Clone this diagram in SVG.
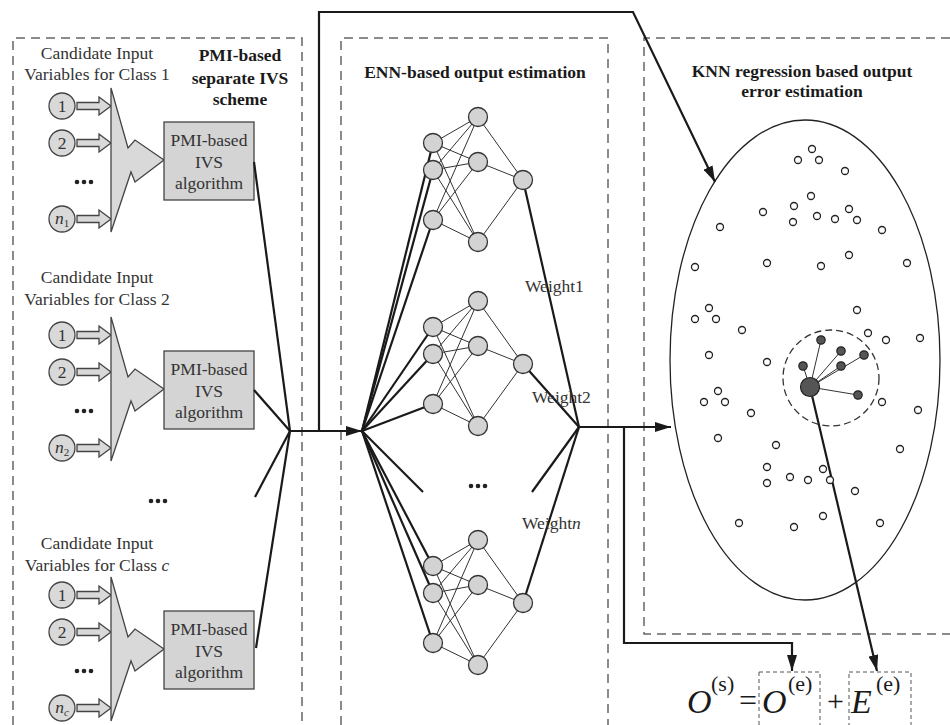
<svg xmlns="http://www.w3.org/2000/svg" width="950" height="725" viewBox="0 0 950 725">
<style>
.dash{fill:none;stroke:#666;stroke-width:1.5;stroke-dasharray:9 6}
.conn{fill:none;stroke:#1a1a1a;stroke-width:2.2}
.thin{stroke:#333;stroke-width:1}
.nn{fill:#d3d3d3;stroke:#333;stroke-width:1.3}
.gc{fill:#d9d9d9;stroke:#444;stroke-width:1.3}
.t{font-family:"Liberation Serif","Times New Roman",serif;fill:#333;font-size:17.5px}
.b{font-weight:bold;fill:#1a1a1a}
.pt{fill:#fff;stroke:#222;stroke-width:1.3}
.nb{fill:#555;stroke:#222;stroke-width:1.2}
.dot{fill:#222}
.fx{font-family:"Liberation Serif","Times New Roman",serif;fill:#1a1a1a}
</style>
<defs>
<marker id="ah" viewBox="0 0 16 10" refX="16" refY="5" markerWidth="16" markerHeight="10" orient="auto" markerUnits="userSpaceOnUse"><path d="M0,0 L16,5 L0,10 z" fill="#1a1a1a"/></marker>
<path id="blk" d="M77,-3.5 H99 V-9 L111,0 L99,9 V3.5 H77 Z" class="gc"/>
<g id="net">
<g class="thin">
<line x1="433" y1="143" x2="478" y2="117"/><line x1="433" y1="143" x2="478" y2="162"/><line x1="433" y1="143" x2="478" y2="242"/>
<line x1="433" y1="170" x2="478" y2="117"/><line x1="433" y1="170" x2="478" y2="162"/><line x1="433" y1="170" x2="478" y2="242"/>
<line x1="433" y1="220" x2="478" y2="117"/><line x1="433" y1="220" x2="478" y2="162"/><line x1="433" y1="220" x2="478" y2="242"/>
<line x1="478" y1="117" x2="523" y2="180"/><line x1="478" y1="162" x2="523" y2="180"/><line x1="478" y1="242" x2="523" y2="180"/>
</g>
<circle class="nn" cx="433" cy="143" r="9.5"/><circle class="nn" cx="433" cy="170" r="9.5"/><circle class="nn" cx="433" cy="220" r="9.5"/>
<circle class="nn" cx="478" cy="117" r="9.5"/><circle class="nn" cx="478" cy="162" r="9.5"/><circle class="nn" cx="478" cy="242" r="9.5"/>
<circle class="nn" cx="523" cy="180" r="9.5"/>
</g>
<g id="cls">
<circle class="gc" cx="62" cy="106" r="13"/>
<circle class="gc" cx="62" cy="143" r="13"/>
<circle class="gc" cx="62" cy="219" r="13"/>
<use href="#blk" transform="translate(0,106)"/>
<use href="#blk" transform="translate(0,143)"/>
<use href="#blk" transform="translate(0,219)"/>
<circle class="dot" cx="77" cy="182" r="2.3"/><circle class="dot" cx="84" cy="182" r="2.3"/><circle class="dot" cx="91" cy="182" r="2.3"/>
<path class="gc" d="M111,88 L128,148 L135,140 L164,160 L135,182 L131,172 L111,232 Z"/>
<rect x="164" y="122" width="90" height="78" fill="#d4d4d4" stroke="#444" stroke-width="1.3"/>
<text class="t" x="209" y="146" text-anchor="middle">PMI-based</text>
<text class="t" x="209" y="168" text-anchor="middle">IVS</text>
<text class="t" x="209" y="189" text-anchor="middle">algorithm</text>
<text class="t" x="62" y="112" text-anchor="middle" font-size="18">1</text>
<text class="t" x="62" y="149" text-anchor="middle" font-size="18">2</text>
</g>
</defs>

<g id="panels">
<path class="dash" d="M13,725 V38 H302 V725"/>
<path class="dash" d="M341,725 V38 H608 V725"/>
<path class="dash" d="M950,38 H644 V634 H950"/>
</g>

<g id="titles">
<text class="t b" x="240" y="61" text-anchor="middle">PMI-based</text>
<text class="t b" x="240" y="84" text-anchor="middle">separate IVS</text>
<text class="t b" x="240" y="105" text-anchor="middle">scheme</text>
<text class="t b" x="475" y="78" text-anchor="middle">ENN-based output estimation</text>
<text class="t b" x="802" y="77" text-anchor="middle">KNN regression based output</text>
<text class="t b" x="802" y="97" text-anchor="middle">error estimation</text>
</g>

<g id="class1">
<text class="t" x="97" y="59" text-anchor="middle">Candidate Input</text>
<text class="t" x="97" y="80" text-anchor="middle">Variables for Class 1</text>
<use href="#cls"/>
<text class="t" x="62" y="224" text-anchor="middle" font-size="17"><tspan font-style="italic">n</tspan><tspan font-size="11" dy="3">1</tspan></text>
</g>
<g id="class2">
<text class="t" x="97" y="283" text-anchor="middle">Candidate Input</text>
<text class="t" x="97" y="305" text-anchor="middle">Variables for Class 2</text>
<use href="#cls" transform="translate(0,229)"/>
<text class="t" x="62" y="453" text-anchor="middle" font-size="17"><tspan font-style="italic">n</tspan><tspan font-size="11" dy="3">2</tspan></text>
</g>
<g id="classdots">
<circle class="dot" cx="151" cy="501" r="2.3"/><circle class="dot" cx="158" cy="501" r="2.3"/><circle class="dot" cx="165" cy="501" r="2.3"/>
</g>
<g id="classc">
<text class="t" x="97" y="549" text-anchor="middle">Candidate Input</text>
<text class="t" x="97" y="571" text-anchor="middle">Variables for Class <tspan font-style="italic">c</tspan></text>
<use href="#cls" transform="translate(0,489)"/>
<text class="t" x="62" y="713" text-anchor="middle" font-size="17"><tspan font-style="italic">n</tspan><tspan font-size="11" dy="3" font-style="italic">c</tspan></text>
</g>

<g id="connectors">
<line class="conn" x1="254" y1="162" x2="290" y2="431"/>
<line class="conn" x1="254" y1="390" x2="290" y2="431"/>
<line class="conn" x1="255" y1="497" x2="290" y2="431"/>
<line class="conn" x1="256" y1="648" x2="290" y2="431"/>
<line class="conn" x1="290" y1="431" x2="362" y2="431" marker-end="url(#ah)"/>
<polyline class="conn" points="319,431 319,12 633,12 715,182" marker-end="url(#ah)"/>
<g class="conn">
<line x1="362" y1="431" x2="433" y2="143"/><line x1="362" y1="431" x2="433" y2="170"/><line x1="362" y1="431" x2="433" y2="220"/>
<line x1="362" y1="431" x2="433" y2="327"/><line x1="362" y1="431" x2="433" y2="354"/><line x1="362" y1="431" x2="433" y2="404"/>
<line x1="362" y1="431" x2="433" y2="566"/><line x1="362" y1="431" x2="433" y2="593"/><line x1="362" y1="431" x2="433" y2="643"/>
<line x1="362" y1="431" x2="423" y2="492"/>
<line x1="523" y1="180" x2="579" y2="427"/><line x1="523" y1="364" x2="579" y2="427"/><line x1="523" y1="603" x2="579" y2="427"/>
<line x1="579" y1="427" x2="532" y2="492"/>
</g>
<line class="conn" x1="579" y1="427" x2="671" y2="427" marker-end="url(#ah)"/>
<polyline class="conn" points="624,427 624,643 792,643 792,671" marker-end="url(#ah)"/>
<line class="conn" x1="810" y1="387" x2="877" y2="671" marker-end="url(#ah)"/>
</g>

<g id="enn">
<use href="#net"/>
<use href="#net" transform="translate(0,184)"/>
<use href="#net" transform="translate(0,423)"/>
<circle class="dot" cx="471" cy="486" r="2.3"/><circle class="dot" cx="478" cy="486" r="2.3"/><circle class="dot" cx="485" cy="486" r="2.3"/>
<text class="t" x="525" y="292" fill="#444" font-size="17">Weight1</text>
<text class="t" x="532" y="403" fill="#444" font-size="17">Weight2</text>
<text class="t" x="522" y="529" fill="#444" font-size="17">Weight<tspan font-style="italic">n</tspan></text>
</g>

<g id="knn">
<ellipse cx="805" cy="360" rx="135" ry="240" fill="none" stroke="#222" stroke-width="1.3"/>
<g class="pt">
<circle cx="812" cy="149" r="3.5"/><circle cx="798" cy="160" r="3.5"/><circle cx="819" cy="160" r="3.5"/><circle cx="845" cy="171" r="3.5"/><circle cx="811" cy="196" r="3.5"/><circle cx="794" cy="206" r="3.5"/><circle cx="849" cy="209" r="3.5"/><circle cx="763" cy="212" r="3.5"/><circle cx="817" cy="216" r="3.5"/><circle cx="793" cy="222" r="3.5"/><circle cx="835" cy="219" r="3.5"/><circle cx="857" cy="220" r="3.5"/><circle cx="720" cy="227" r="3.5"/><circle cx="882" cy="230" r="3.5"/><circle cx="695" cy="267" r="3.5"/><circle cx="767" cy="263" r="3.5"/><circle cx="821" cy="266" r="3.5"/><circle cx="849" cy="255" r="3.5"/><circle cx="907" cy="263" r="3.5"/>
<circle cx="709" cy="308" r="3.5"/><circle cx="695" cy="319" r="3.5"/><circle cx="716" cy="319" r="3.5"/><circle cx="742" cy="330" r="3.5"/><circle cx="857" cy="310" r="3.5"/><circle cx="868" cy="333" r="3.5"/><circle cx="886" cy="340" r="3.5"/><circle cx="920" cy="338" r="3.5"/><circle cx="709" cy="355" r="3.5"/><circle cx="767" cy="362" r="3.5"/><circle cx="718" cy="391" r="3.5"/><circle cx="704" cy="402" r="3.5"/><circle cx="725" cy="402" r="3.5"/><circle cx="751" cy="413" r="3.5"/><circle cx="882" cy="402" r="3.5"/><circle cx="918" cy="410" r="3.5"/><circle cx="718" cy="438" r="3.5"/><circle cx="776" cy="445" r="3.5"/><circle cx="900" cy="449" r="3.5"/><circle cx="767" cy="467" r="3.5"/><circle cx="790" cy="477" r="3.5"/><circle cx="808" cy="480" r="3.5"/><circle cx="823" cy="469" r="3.5"/><circle cx="767" cy="483" r="3.5"/><circle cx="830" cy="480" r="3.5"/><circle cx="855" cy="491" r="3.5"/>
<circle cx="739" cy="523" r="3.5"/><circle cx="794" cy="527" r="3.5"/><circle cx="823" cy="516" r="3.5"/><circle cx="880" cy="523" r="3.5"/>
</g>
<circle cx="831" cy="378" r="48" fill="none" stroke="#333" stroke-width="1.3" stroke-dasharray="7 4"/>
<g class="thin" stroke-width="1.2">
<line x1="810" y1="387" x2="821" y2="340"/><line x1="810" y1="387" x2="841" y2="351"/><line x1="810" y1="387" x2="864" y2="355"/><line x1="810" y1="387" x2="803" y2="366"/><line x1="810" y1="387" x2="841" y2="366"/><line x1="810" y1="387" x2="858" y2="395"/>
</g>
<g class="nb">
<circle cx="821" cy="340" r="4.2"/><circle cx="841" cy="351" r="4.2"/><circle cx="864" cy="355" r="4.2"/><circle cx="803" cy="366" r="4.2"/><circle cx="841" cy="366" r="4.2"/><circle cx="858" cy="395" r="4.2"/>
</g>
<circle class="nb" cx="810" cy="387" r="9.5"/>
</g>

<g id="formula">
<rect x="759" y="672" width="61" height="60" fill="none" stroke="#555" stroke-width="1" stroke-dasharray="4 3"/>
<rect x="849" y="672" width="62" height="60" fill="none" stroke="#555" stroke-width="1" stroke-dasharray="4 3"/>
<text class="fx" x="687" y="713" font-size="34" font-style="italic">O</text>
<text class="fx" x="711" y="691" font-size="22">(s)</text>
<text class="fx" x="739" y="711" font-size="32">=</text>
<text class="fx" x="762" y="713" font-size="34" font-style="italic">O</text>
<text class="fx" x="788" y="691" font-size="22">(e)</text>
<text class="fx" x="827" y="711" font-size="30">+</text>
<text class="fx" x="851" y="713" font-size="34" font-style="italic">E</text>
<text class="fx" x="876" y="691" font-size="22">(e)</text>
</g>
</svg>
